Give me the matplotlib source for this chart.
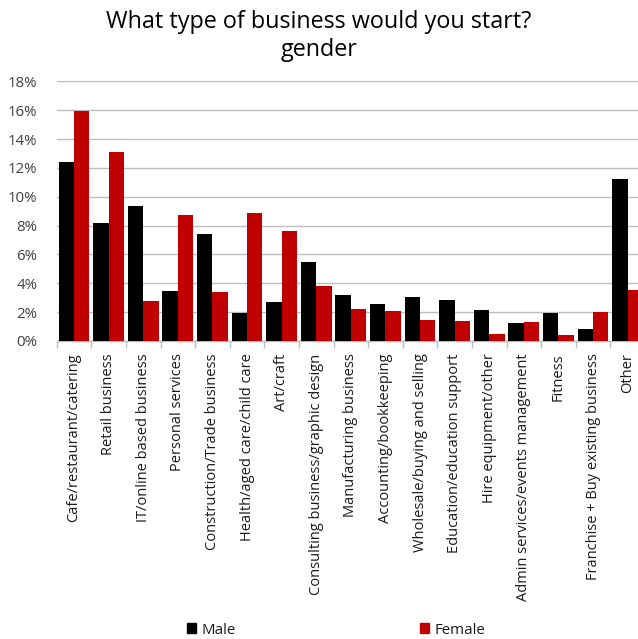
import matplotlib
matplotlib.use("Agg")
import matplotlib.pyplot as plt
import numpy as np
from matplotlib.ticker import PercentFormatter
from matplotlib.patches import Patch

categories = ["Cafe/restaurant/catering", "Retail business", "IT/online based business",
              "Personal services", "Construction/Trade business", "Health/aged care/child care",
              "Art/craft", "Consulting business/graphic design", "Manufacturing business",
              "Accounting/bookkeeping", "Wholesale/buying and selling", "Education/education support",
              "Hire equipment/other", "Admin services/events management", "Fitness",
              "Franchise + Buy existing business", "Other"]
male = [12.4, 8.2, 9.35, 3.5, 7.4, 1.97, 2.7, 5.45, 3.22, 2.58, 3.02, 2.85, 2.13, 1.23, 1.95, 0.81, 11.25]
female = [15.96, 13.1, 2.76, 8.75, 3.41, 8.9, 7.6, 3.83, 2.2, 2.06, 1.44, 1.37, 0.46, 1.32, 0.42, 2.02, 3.55]
series_names = ["Male", "Female"]
yticks = [0, 2, 4, 6, 8, 10, 12, 14, 16, 18]

FONT = "Open Sans"
plt.rcParams['font.family'] = [FONT, 'DejaVu Sans']

fig = plt.figure(figsize=(6.38, 6.39), dpi=100)
ax = fig.add_axes([56.7/638, 298/639, 588.3/638, 259.7/639])

x = np.arange(len(categories))
w = 0.445
ax.bar(x - w/2, male, width=w, color="#000000", zorder=3)
ax.bar(x + w/2, female, width=w, color="#c00000", zorder=3)

ax.set_xlim(-0.5, len(categories) - 0.5)
ax.set_ylim(0, 18)
ax.set_yticks(yticks)
ax.yaxis.set_major_formatter(PercentFormatter(decimals=0))
ax.yaxis.grid(True, color="#bdbdbd", linewidth=1, zorder=0)
ax.tick_params(axis='y', length=0, labelsize=10.8, colors="#404040", pad=14)

ax.set_xticks(x)
ax.set_xticklabels(categories, rotation=90, fontsize=10.5, color="#1a1a1a")
ax.set_xticks(np.arange(len(categories) + 1) - 0.5, minor=True)
ax.tick_params(axis='x', which='major', length=0, pad=9)
ax.tick_params(axis='x', which='minor', length=5, color="#bdbdbd", width=1)

for s in ["top", "right", "left"]:
    ax.spines[s].set_visible(False)
ax.spines["bottom"].set_color("#bdbdbd")
ax.spines["bottom"].set_linewidth(1)

fig.text(0.5, 1 - 22/639, "What type of business would you start?", ha="center", va="center", fontsize=16.8, color="#000000")
fig.text(0.5, 1 - 50/639, "gender", ha="center", va="center", fontsize=16.8, color="#000000")

handles = [Patch(color="#000000"), Patch(color="#c00000")]
fig.legend(handles, series_names, loc="center", bbox_to_anchor=(336/638, 1 - 630/639), ncol=2,
           frameon=False, fontsize=10.8, handlelength=0.6, handleheight=0.6, handletextpad=0.35,
           columnspacing=12.3, labelcolor="#1a1a1a")

fig.savefig("out.png", dpi=100)
